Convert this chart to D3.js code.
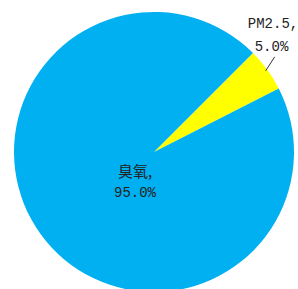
<!DOCTYPE html>
<html><head><meta charset="utf-8">
<script src="https://cdn.jsdelivr.net/npm/d3@7"></script>
<style>html,body{margin:0;padding:0;background:#fff;overflow:hidden}</style>
</head><body>
<svg id="c" width="298" height="289"></svg>
<script>
const categories = ["PM2.5", "臭氧"];
const values = [5.0, 95.0];
const colors = ["#FFFF00", "#00B0F0"];

const svg = d3.select("#c");
const cx = 154, cy = 152, r = 140;
const g = svg.append("g").attr("transform", `translate(${cx},${cy})`);
const pie = d3.pie().sort(null).startAngle(Math.PI / 4).endAngle(Math.PI / 4 + 2 * Math.PI);
const arcs = pie(values);
const arc = d3.arc().innerRadius(0).outerRadius(r);
g.selectAll("path").data(arcs).join("path")
  .attr("d", arc).attr("fill", (d, i) => colors[i]);

const fontMono = "'Liberation Mono', 'DejaVu Sans Mono', monospace";
const fontCJK = "'Noto Sans CJK SC', sans-serif";

// 臭氧 label inside
g.append("text").attr("x", -19).attr("y", 25).attr("text-anchor", "middle")
  .attr("font-family", fontCJK).attr("font-size", 15).attr("fill", "#222")
  .text(categories[1] + ",");
g.append("text").attr("x", -19).attr("y", 45).attr("text-anchor", "middle")
  .attr("font-family", fontMono).attr("font-size", 14).attr("fill", "#222")
  .text(values[1].toFixed(1) + "%");

// PM2.5 label outside with leader
const a0 = arcs[0];
const mid = (a0.startAngle + a0.endAngle) / 2;
const p1 = [Math.sin(mid) * (r - 2), -Math.cos(mid) * (r - 2)];
g.append("line").attr("x1", p1[0]).attr("y1", p1[1]).attr("x2", p1[0] + 9).attr("y2", p1[1] - 14)
  .attr("stroke", "#333").attr("stroke-width", 1);
svg.append("text").attr("x", 273).attr("y", 28).attr("text-anchor", "middle")
  .attr("font-family", fontMono).attr("font-size", 14).attr("fill", "#222")
  .text(categories[0] + ",");
svg.append("text").attr("x", 271.5).attr("y", 51).attr("text-anchor", "middle")
  .attr("font-family", fontMono).attr("font-size", 14).attr("fill", "#222")
  .text(values[0].toFixed(1) + "%");
</script>
</body></html>
